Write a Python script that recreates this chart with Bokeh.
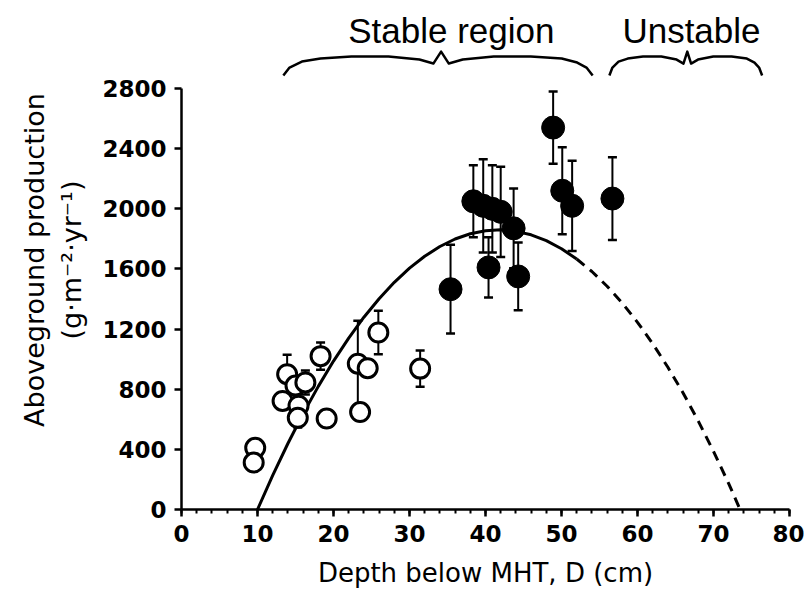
from bokeh.plotting import figure
from bokeh.models import Range1d, SingleIntervalTicker, Label
from bokeh.embed import file_html
from bokeh.resources import INLINE

# ---------------- data ----------------
open_D = [9.7, 9.5, 13.9, 15.0, 16.3, 13.3, 15.4, 15.3, 18.3, 19.1, 23.2, 24.5, 23.5, 25.9, 31.4]
open_P = [410, 312, 900, 824, 845, 722, 690, 610, 1020, 605, 970, 940, 648, 1177, 937]
open_err = [0, 0, 130, 0, 80, 0, 0, 65, 90, 0, 285, 0, 0, 145, 120]

filled_D = [35.4, 38.4, 39.7, 40.9, 42.0, 40.4, 43.7, 44.3, 48.9, 50.1, 51.4, 56.7]
filled_P = [1465, 2050, 2020, 2000, 1980, 1610, 1870, 1550, 2540, 2120, 2020, 2068]
filled_err = [295, 240, 310, 290, 300, 200, 265, 225, 240, 290, 300, 275]

# fitted curve
fit_solid_D = [10, 12, 14, 16, 18, 20, 22, 24, 26, 28, 30, 32, 34, 36, 38, 40, 42, 44, 46, 48, 50, 52]
fit_solid_P = [0, 227, 439, 637, 819, 987, 1140, 1279, 1402, 1511, 1605, 1684, 1749, 1799,
               1834, 1854, 1860, 1850, 1827, 1788, 1734, 1666]
fit_dash_D = [52, 54, 56, 58, 60, 62, 64, 66, 68, 70, 72, 73.5]
fit_dash_P = [1666, 1583, 1485, 1373, 1245, 1103, 946, 775, 588, 387, 172, 0]

region_labels = ["Stable region", "Unstable"]
region_spans = [(13.4, 54.1), (56.3, 76.4)]
region_text_x = [35.5, 67.1]

x_ticks_major = 10
y_ticks_major = 400

# ---------------- figure ----------------
px_per_unit_y = 421 / 2800.0
frame_h = 499
y_top = frame_h / px_per_unit_y

p = figure(width=804, height=595, output_backend="svg", toolbar_location=None,
           x_range=Range1d(0, 80), y_range=Range1d(0, y_top),
           min_border_left=181, min_border_right=15, min_border_top=10, min_border_bottom=86)
p.outline_line_color = None
p.xgrid.visible = False
p.ygrid.visible = False
p.background_fill_color = "white"
p.border_fill_color = "white"

AX_FONT = "DejaVu Sans"
for ax in (p.xaxis[0], p.yaxis[0]):
    ax.axis_line_width = 2.5
    ax.axis_line_color = "black"
    ax.major_tick_line_width = 2.5
    ax.major_tick_line_color = "black"
    ax.major_tick_in = 0
    ax.major_tick_out = 7
    ax.minor_tick_in = 0
    ax.minor_tick_out = 4
    ax.minor_tick_line_width = 2
    ax.minor_tick_line_color = "black"
    ax.major_label_text_font = AX_FONT
    ax.major_label_text_font_size = "23px"
    ax.major_label_text_font_style = "bold"
    ax.major_label_text_color = "black"
    ax.axis_label_text_font = AX_FONT
    ax.axis_label_text_font_style = "normal"
    ax.axis_label_text_color = "black"

p.xaxis[0].axis_label_text_font_size = "26px"
p.yaxis[0].axis_label_text_font_size = "27px"
p.xaxis[0].ticker = SingleIntervalTicker(interval=x_ticks_major, num_minor_ticks=5)
p.yaxis[0].ticker = SingleIntervalTicker(interval=y_ticks_major, num_minor_ticks=0)
p.xaxis[0].bounds = (0, 80)
p.yaxis[0].bounds = (0, 2800)
p.xaxis[0].axis_label = "Depth below MHT, D (cm)"
p.yaxis[0].axis_label = "Aboveground production\n(g\u00b7m\u207b\u00b2\u00b7yr\u207b\u00b9)"
p.xaxis[0].major_label_standoff = 8
p.xaxis[0].axis_label_standoff = 13
p.yaxis[0].major_label_standoff = 8
p.yaxis[0].axis_label_standoff = 12

# ---------------- fitted curve ----------------
p.line(fit_solid_D, fit_solid_P, line_width=3, line_color="black")
p.line(fit_dash_D, fit_dash_P, line_width=3, line_color="black", line_dash="10 7")

# ---------------- error bars + points ----------------
def errorbars(xs, ys, es):
    bx = [x for x, e in zip(xs, es) if e > 0]
    lo = [y - e for y, e in zip(ys, es) if e > 0]
    hi = [y + e for y, e in zip(ys, es) if e > 0]
    p.segment(bx, lo, bx, hi, line_width=2, line_color="black")
    p.scatter(bx + bx, lo + hi, marker="dash", size=9, line_width=2.5, line_color="black")

errorbars(open_D, open_P, open_err)
p.scatter(open_D, open_P, marker="circle", size=19, fill_color="white",
          line_color="black", line_width=3)

errorbars(filled_D, filled_P, filled_err)
p.scatter(filled_D, filled_P, marker="circle", size=23, fill_color="black",
          line_color="black", line_width=1)

# ---------------- region braces ----------------
brace_u = [0, 0.02, 0.06, 0.12, 0.22, 0.34, 0.44, 0.485, 0.51, 0.535, 0.58, 0.68, 0.8, 0.9, 0.95, 0.98, 1]
brace_h_px = [0, 8, 14, 17, 19, 19, 16, 12, 24, 12, 16, 19, 19, 17, 13, 8, 0]
brace_base = 2886
for (a, b) in region_spans:
    bx = [a + u * (b - a) for u in brace_u]
    by = [brace_base + h / px_per_unit_y for h in brace_h_px]
    p.line(bx, by, line_width=2.5, line_color="black", line_join="round")

for txt, tx in zip(region_labels, region_text_x):
    p.add_layout(Label(x=tx, y=(509 - 30) / px_per_unit_y, text=txt,
                       text_align="center", text_baseline="middle",
                       text_font="Liberation Sans", text_font_size="35px",
                       text_color="black"))

open("out.html", "w").write(file_html(p, INLINE))
